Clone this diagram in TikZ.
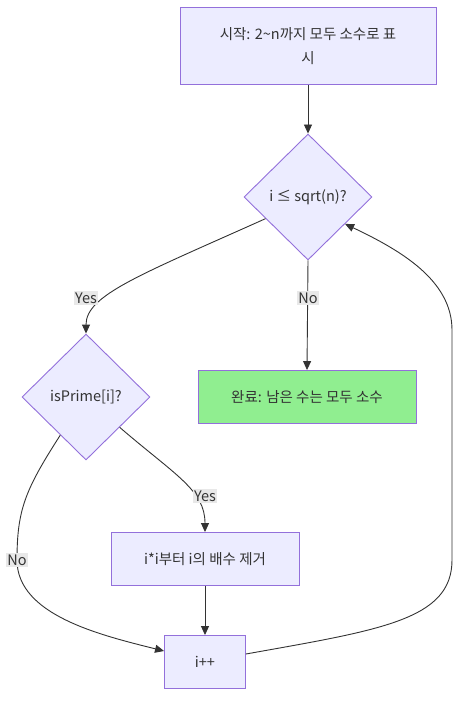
\documentclass[tikz,border=0pt]{standalone}
\usepackage{fontspec}
\setmainfont{Noto Sans CJK KR}
\usetikzlibrary{shapes.geometric,arrows.meta}
\definecolor{nodefill}{HTML}{ECECFF}
\definecolor{nodeline}{HTML}{9370DB}
\definecolor{ink}{HTML}{333333}
\definecolor{donefill}{HTML}{90EE90}
\definecolor{lblbg}{HTML}{E8E8E8}
\tikzset{
  base/.style={font=\fontsize{14.5}{24}\selectfont, text=ink},
  procbox/.style={base, draw=nodeline, fill=nodefill, line width=0.9pt, inner sep=0pt},
  decision/.style={base, diamond, aspect=1, draw=nodeline, fill=nodefill, line width=0.9pt, inner sep=0pt, minimum width=128pt, minimum height=126pt},
  conn/.style={draw=ink, line width=0.9pt, -{Triangle[length=9pt,width=8pt]}},
  lbl/.style={base, fill=lblbg, inner sep=1.5pt}
}
\begin{document}
\begin{tikzpicture}[x=1pt,y=-1pt]
\useasboundingbox (0,0) rectangle (468,710);
\node[procbox, minimum width=256pt, minimum height=77pt, align=center] (start) at (308,46) {시작: 2\textasciitilde n까지 모두 소수로 표\\시};
\node[decision] (cond) at (308,197) {i ≤ sqrt(n)?};
\node[decision] (prime) at (86,397) {isPrime[i]?};
\node[procbox, fill=donefill, minimum width=218pt, minimum height=53pt] (done) at (307,397) {완료: 남은 수는 모두 소수};
\node[procbox, minimum width=188pt, minimum height=53pt] (mark) at (205,559) {i*i부터 i의 배수 제거};
\node[procbox, minimum width=81pt, minimum height=53pt] (inc) at (205,662) {i++};

\draw[conn] (start) -- (cond);
\draw[conn] (cond.207) .. controls (140,275) and (86,295) .. (prime.north);
\node[lbl] (yes1) at (86,298) {Yes};
\draw[conn] (cond.south) -- (done.north);
\node[lbl] (no1) at (308,298) {No};
\draw[conn] (prime.-42) .. controls (175,475) and (205,490) .. (mark.north);
\node[lbl] (yes2) at (205,496) {Yes};
\draw[conn] (prime.236) .. controls (25,490) and (17,510) .. (17,560) .. controls (17,615) and (100,635) .. (inc.west |- 0,651);
\node[lbl] (no2) at (17,560) {No};
\draw[conn] (mark) -- (inc);
\draw[conn] (inc.east |- 0,654) .. controls (380,630) and (452,620) .. (452,560) -- (452,330) .. controls (452,280) and (400,250) .. (cond.-36);
\end{tikzpicture}
\end{document}
